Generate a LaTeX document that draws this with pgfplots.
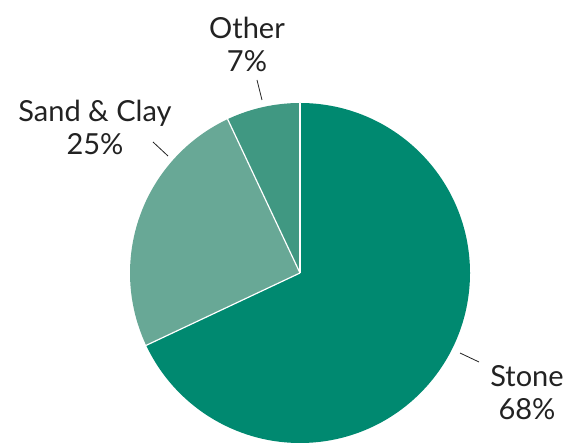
\documentclass[border=0pt]{standalone}
\usepackage{pgfplots}
\usepackage{pgfplotstable}
\pgfplotsset{compat=1.18}
\usepackage{fontspec}
\setmainfont{Lato}
\definecolor{stonec}{RGB}{0,137,112}
\definecolor{sandc}{RGB}{104,168,150}
\definecolor{otherc}{RGB}{64,152,130}
\definecolor{txt}{RGB}{34,34,34}
\pgfplotstableread{
label value
Stone 68
SandClay 25
Other 7
}\piedata
\pgfplotstablegetelem{0}{value}\of\piedata \edef\vA{\pgfplotsretval}
\pgfplotstablegetelem{1}{value}\of\piedata \edef\vB{\pgfplotsretval}
\pgfplotstablegetelem{2}{value}\of\piedata \edef\vC{\pgfplotsretval}
\pgfmathsetmacro\aA{90-3.6*\vA}
\pgfmathsetmacro\aB{\aA-3.6*\vB}
\pgfmathsetmacro\aC{\aB-3.6*\vC}
\begin{document}
\begin{tikzpicture}
\begin{axis}[
  width=569pt, height=443pt, scale only axis,
  xmin=0, xmax=569, ymin=0, ymax=443,
  hide axis, clip=true,
]
\fill[stonec] (axis cs:300,170) -- ++(90:170pt) arc[start angle=90, end angle=\aA, radius=170pt] -- cycle;
\fill[sandc] (axis cs:300,170) -- ++(\aA:170pt) arc[start angle=\aA, end angle=\aB, radius=170pt] -- cycle;
\fill[otherc] (axis cs:300,170) -- ++(\aB:170pt) arc[start angle=\aB, end angle=\aC, radius=170pt] -- cycle;
\draw[white, line width=1.2pt] (axis cs:300,170) -- ++(90:170pt);
\draw[white, line width=1.2pt] (axis cs:300,170) -- ++(\aA:170pt);
\draw[white, line width=1.2pt] (axis cs:300,170) -- ++(\aB:170pt);
\draw[txt, line width=0.8pt] (axis cs:460,90) -- (axis cs:479,81);
\draw[txt, line width=0.8pt] (axis cs:153,301) -- (axis cs:168,287);
\draw[txt, line width=0.8pt] (axis cs:257,363) -- (axis cs:262,343);
\node[txt, align=center, font=\fontsize{29}{33}\selectfont] at (axis cs:527,50) {Stone\\68\%};
\node[txt, align=center, font=\fontsize{29}{33}\selectfont] at (axis cs:95,316) {Sand \& Clay\\25\%};
\node[txt, align=center, font=\fontsize{29}{33}\selectfont] at (axis cs:247,399) {Other\\7\%};
\end{axis}
\pgfresetboundingbox
\useasboundingbox (current axis.south west) rectangle (current axis.north east);
\end{tikzpicture}
\end{document}
